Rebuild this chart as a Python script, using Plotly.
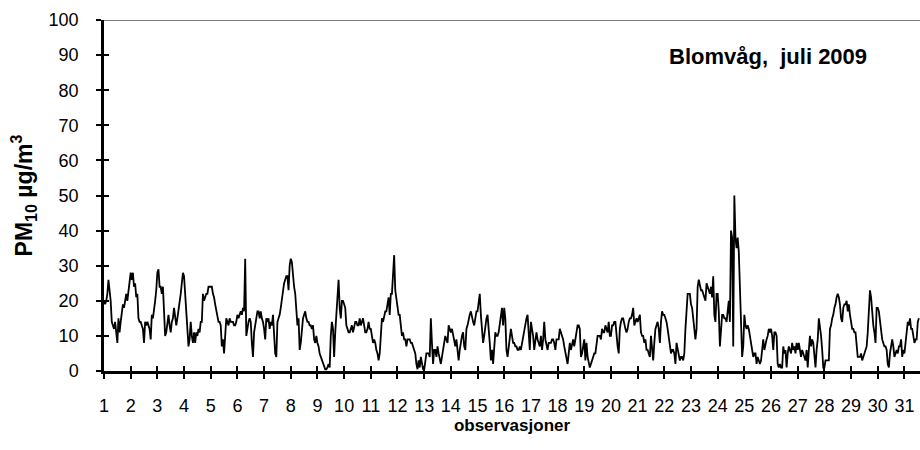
import plotly.graph_objects as go

# Hourly PM10 values (µg/m3), Blomvåg, July 2009 — one list per day
d01 = [20, 19, 20, 22, 26, 23, 20, 14, 13, 12, 14, 10, 8, 15, 11, 14, 17, 19, 18, 21, 22, 20, 23, 24]
d02 = [28, 26, 28, 24, 25, 21, 22, 15, 14, 14, 13, 12, 8, 14, 13, 14, 13, 12, 9, 16, 15, 17, 20, 23]
d03 = [28, 29, 24, 24, 22, 24, 17, 10, 11, 14, 16, 13, 11, 14, 15, 18, 16, 13, 15, 17, 20, 22, 25, 28]
d04 = [27, 21, 16, 9, 7, 9, 14, 10, 8, 11, 8, 11, 10, 12, 11, 14, 14, 22, 20, 21, 22, 22, 24, 24]
d05 = [24, 24, 22, 21, 19, 17, 15, 14, 14, 13, 7, 9, 5, 11, 15, 14, 13, 15, 14, 14, 14, 13, 13, 14]
d06 = [16, 15, 16, 17, 16, 18, 17, 32, 10, 13, 14, 15, 14, 8, 4, 11, 14, 15, 17, 17, 15, 17, 15, 14]
d07 = [12, 9, 15, 14, 15, 12, 14, 13, 16, 10, 5, 4, 14, 15, 16, 18, 21, 24, 25, 26, 27, 27, 23, 30]
d08 = [32, 31, 27, 24, 22, 18, 13, 15, 6, 8, 12, 15, 16, 17, 15, 14, 14, 13, 13, 12, 13, 9, 8, 10]
d09 = [8, 7, 5, 4, 3, 2, 1, 0.5, 0.5, 1, 2, 1, 10, 14, 12, 4, 11, 16, 21, 26, 18, 15, 20, 20]
d10 = [19, 18, 13, 12, 11, 11, 12, 13, 11, 13, 14, 14, 13, 13, 15, 13, 14, 15, 13, 11, 11, 12, 14, 12]
d11 = [12, 10, 8, 9, 8, 6, 5, 3, 5, 10, 15, 14, 16, 17, 17, 19, 21, 16, 22, 22, 30, 33, 23, 20]
d12 = [19, 16, 16, 13, 10, 11, 9, 9, 7, 9, 9, 9, 8, 8, 7, 6, 5, 2, 0.5, 3, 1, 4, 2, 0.5]
d13 = [0.3, 3, 5, 5, 5, 4, 15, 8, 2, 6, 6, 4, 7, 5, 3, 2, 4, 6, 7, 10, 9, 8, 13, 12]
d14 = [11, 12, 10, 9, 7, 9, 5, 3, 6, 9, 10, 11, 7, 6, 12, 13, 15, 16, 17, 15, 14, 13, 16, 17]
d15 = [17, 20, 22, 16, 11, 8, 10, 13, 15, 16, 13, 8, 3, 6, 2, 7, 11, 10, 10, 11, 13, 15, 18, 13]
d16 = [18, 15, 6, 4, 7, 9, 12, 10, 8, 8, 7, 7, 6, 6, 7, 6, 8, 10, 12, 14, 15, 16, 12, 6]
d17 = [14, 12, 10, 6, 9, 11, 9, 8, 7, 10, 6, 9, 14, 9, 7, 6, 8, 8, 8, 9, 9, 8, 6, 9]
d18 = [9, 9, 12, 11, 10, 9, 7, 5, 3, 2, 5, 8, 6, 8, 9, 7, 10, 11, 13, 13, 12, 4, 5, 7]
d19 = [9, 3, 8, 4, 2, 1, 2, 3, 4, 5, 5, 8, 10, 10, 10, 9, 12, 11, 11, 13, 12, 11, 14, 10]
d20 = [10, 13, 13, 14, 14, 10, 7, 5, 12, 14, 15, 15, 13, 12, 11, 12, 14, 15, 15, 16, 18, 13, 14, 15]
d21 = [14, 15, 16, 11, 10, 10, 8, 9, 6, 6, 5, 4, 10, 5, 3, 8, 12, 13, 14, 12, 8, 14, 17, 16]
d22 = [16, 15, 14, 12, 10, 7, 5, 6, 6, 5, 2, 8, 6, 5, 3, 4, 4, 3, 5, 12, 19, 22, 22, 22]
d23 = [19, 18, 15, 11, 9, 12, 24, 26, 24, 23, 23, 22, 21, 20, 25, 24, 23, 22, 24, 21, 27, 16, 14, 22]
d24 = [22, 17, 7, 12, 16, 16, 15, 15, 14, 17, 20, 14, 40, 38, 7, 50, 38, 35, 38, 34, 22, 8, 4, 7]
d25 = [16, 13, 12, 13, 12, 10, 8, 5, 4, 5, 5, 2, 4, 3, 2, 3, 7, 9, 6, 8, 9, 10, 12, 11]
d26 = [12, 10, 6, 11, 11, 10, 2, 1, 2, 1, 1, 7, 5, 6, 1, 5, 7, 6, 5, 8, 6, 7, 5, 8]
d27 = [6, 8, 5, 4, 6, 5, 4, 3, 6, 1, 6, 10, 7, 9, 8, 5, 1, 6, 9, 15, 13, 10, 6, 1]
d28 = [1, 3, 3, 3, 3, 12, 13, 15, 16, 18, 19, 21, 22, 21, 19, 15, 14, 18, 19, 19, 20, 17, 19, 16]
d29 = [13, 12, 12, 11, 11, 8, 4, 4, 4, 5, 3, 4, 5, 6, 7, 11, 19, 23, 21, 16, 13, 11, 8, 18]
d30 = [18, 17, 14, 12, 9, 8, 7, 7, 6, 2, 1, 5, 8, 9, 7, 4, 5, 6, 5, 7, 7, 9, 4, 6]
d31 = [5, 8, 12, 14, 13, 15, 12, 12, 10, 8, 9, 9, 14, 15]

day_lists = [d01, d02, d03, d04, d05, d06, d07, d08, d09, d10, d11, d12, d13, d14, d15, d16,
             d17, d18, d19, d20, d21, d22, d23, d24, d25, d26, d27, d28, d29, d30, d31]

day_labels = [str(i) for i in range(1, 32)]
y_ticks = list(range(0, 101, 10))
chart_title = "Blomvåg,  juli 2009"
x_title = "observasjoner"
y_title = "PM<sub>10</sub> µg/m<sup>3</sup>"

pm10 = [v for day in day_lists for v in day]
hours = list(range(len(pm10)))
day_ticks = [24 * i for i in range(len(day_labels))]
x_range = [0, 734]

FONT = "Liberation Sans, Arial, sans-serif"

fig = go.Figure()
fig.add_trace(go.Scatter(
    x=hours, y=pm10, mode="lines",
    line=dict(color="black", width=1.8),
    showlegend=False, hoverinfo="skip",
))
# dummy trace so the overlay axes (inside tick halves) are drawn
fig.add_trace(go.Scatter(x=[None], y=[None], xaxis="x2", yaxis="y2",
                         showlegend=False, hoverinfo="skip"))

common_tick = dict(tickcolor="black", tickwidth=1.5, ticklen=5)

fig.update_layout(
    width=920, height=450,
    margin=dict(l=104, r=0, t=20, b=79, autoexpand=False),
    paper_bgcolor="white", plot_bgcolor="white",
    font=dict(family=FONT, color="black"),
    xaxis=dict(
        range=x_range, tickmode="array", tickvals=day_ticks, ticktext=day_labels,
        ticks="outside", **common_tick,
        showline=True, linewidth=2.5, linecolor="black",
        showgrid=False, zeroline=False,
        tickfont=dict(family=FONT, size=18, color="black"),
        ticklabelstandoff=12,
        title=dict(text="<b>" + x_title + "</b>", font=dict(family=FONT, size=17, color="black"),
                   standoff=4),
    ),
    yaxis=dict(
        range=[0, 100], tickmode="array", tickvals=y_ticks,
        ticks="outside", **common_tick,
        showline=True, linewidth=2.5, linecolor="black",
        showgrid=False, zeroline=False,
        tickfont=dict(family=FONT, size=18, color="black"),
        ticklabelstandoff=14,
        title=dict(text="<b>" + y_title + "</b>", font=dict(family=FONT, size=23, color="black"),
                   standoff=10),
    ),
    xaxis2=dict(overlaying="x", range=x_range, tickmode="array", tickvals=day_ticks,
                ticks="inside", **common_tick, showticklabels=False,
                showline=False, showgrid=False, zeroline=False),
    yaxis2=dict(overlaying="y", range=[0, 100], tickmode="array", tickvals=y_ticks,
                ticks="inside", **common_tick, showticklabels=False,
                showline=False, showgrid=False, zeroline=False),
    shapes=[dict(type="line", xref="paper", yref="y", x0=0, x1=1, y0=100, y1=100,
                 line=dict(color="black", width=1.2))],
    annotations=[dict(text="<b>" + chart_title + "</b>", xref="paper", yref="y",
                      x=0.938, y=89.7, xanchor="right", yanchor="middle", showarrow=False,
                      font=dict(family=FONT, size=22, color="black"))],
)

fig.write_html("out.html", config={"displayModeBar": False},
               post_script="document.body.style.margin='0px';")
